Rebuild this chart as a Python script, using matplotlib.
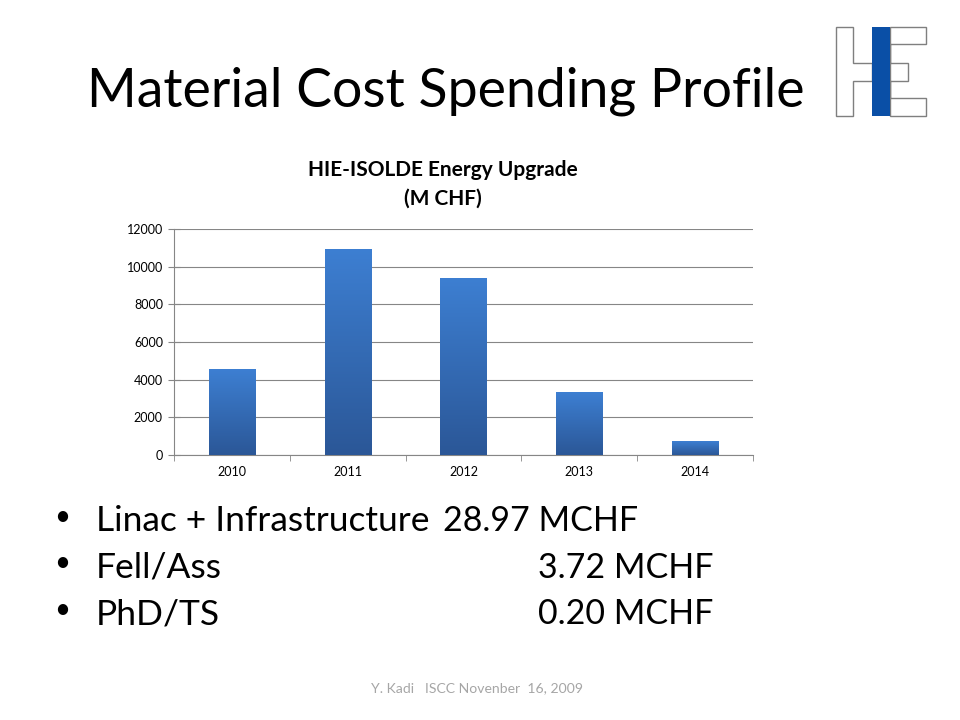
import numpy as np
import matplotlib.pyplot as plt
from matplotlib.patches import Polygon, Rectangle
from matplotlib.colors import LinearSegmentedColormap

plt.rcParams['font.family'] = ['Lato', 'DejaVu Sans']

# chart data
years = ["2010", "2011", "2012", "2013", "2014"]
spending = [4560, 10950, 9400, 3330, 720]
y_ticks = [0, 2000, 4000, 6000, 8000, 10000, 12000]

bullet_items = ["Linac + Infrastructure", "Fell/Ass", "PhD/TS"]
bullet_amounts = ["28.97 MCHF", "3.72 MCHF", "0.20 MCHF"]

fig = plt.figure(figsize=(9.6, 7.2), dpi=100)

# background layer in pixel coordinates for slide text and logo
bg = fig.add_axes([0, 0, 1, 1])
bg.set_xlim(0, 960)
bg.set_ylim(720, 0)
bg.axis("off")

bg.text(446, 91, "Material Cost Spending Profile", fontsize=38.6,
        ha="center", va="center", color="black")

# HE logo
grey = "#7f7f7f"
h_left = [(836, 27), (853, 27), (853, 63), (872, 63), (872, 81),
          (853, 81), (853, 116), (836, 116)]
bg.add_patch(Polygon(h_left, closed=True, fill=False, ec=grey, lw=1))
e_shape = [(890, 27), (926, 27), (926, 44), (890, 44), (890, 63), (908, 63),
           (908, 81), (890, 81), (890, 98), (926, 98), (926, 116), (890, 116)]
bg.add_patch(Polygon(e_shape, closed=True, fill=False, ec=grey, lw=1))
bg.add_patch(Rectangle((872, 27), 18, 89, fc="#0a4fa6", ec="none"))

bg.text(443, 170, "HIE-ISOLDE Energy Upgrade", fontsize=15,
        fontweight="bold", ha="center", va="center")
bg.text(443, 199, "(M CHF)", fontsize=15,
        fontweight="bold", ha="center", va="center")

# bullets
for i, (item, amt) in enumerate(zip(bullet_items, bullet_amounts)):
    base = 531 + i * 46.5
    bg.text(62, base - 14, "\u2022", fontsize=20, ha="center", va="center")
    bg.text(96, base, item, fontsize=25.5, ha="left", va="baseline")
    x_amt = 443 if i == 0 else 538
    bg.text(x_amt, base, amt, fontsize=24.5, ha="left", va="baseline")

bg.text(477, 688, "Y. Kadi   ISCC Novenber  16, 2009", fontsize=10.1,
        ha="center", va="center", color="#a6a6a6")

# bar chart
ax = fig.add_axes([174 / 960, (720 - 455) / 720, 579 / 960, 226 / 720])
x = np.arange(len(years))
bars = ax.bar(x, spending, width=0.4, color="none", zorder=3)
ax.set_xlim(-0.5, len(years) - 0.5)
ax.set_ylim(0, 12000)

cmap = LinearSegmentedColormap.from_list("bar", ["#2b5797", "#3d7fd2"])
grad = np.linspace(0, 1, 256).reshape(-1, 1)
for b in bars:
    x0, h, w = b.get_x(), b.get_height(), b.get_width()
    im = ax.imshow(grad, cmap=cmap, aspect="auto", origin="lower",
                   extent=(x0, x0 + w, 0, h), zorder=3)
    im.set_clip_path(b)

ax.set_yticks(y_ticks)
ax.set_yticklabels([str(t) for t in y_ticks])
ax.set_xticks(x)
ax.set_xticklabels(years)
ax.set_xticks(np.arange(-0.5, len(years)), minor=True)
ax.tick_params(axis="x", which="major", length=0, labelsize=9, pad=8)
ax.tick_params(axis="x", which="minor", length=4, color="#868686")
ax.tick_params(axis="y", length=8, direction="inout", color="#868686",
               labelsize=9, pad=4)
ax.grid(axis="y", color="#868686", lw=0.8, zorder=0)
for s in ["top", "right"]:
    ax.spines[s].set_visible(False)
for s in ["left", "bottom"]:
    ax.spines[s].set_color("#868686")

fig.savefig("out.png", dpi=100)
